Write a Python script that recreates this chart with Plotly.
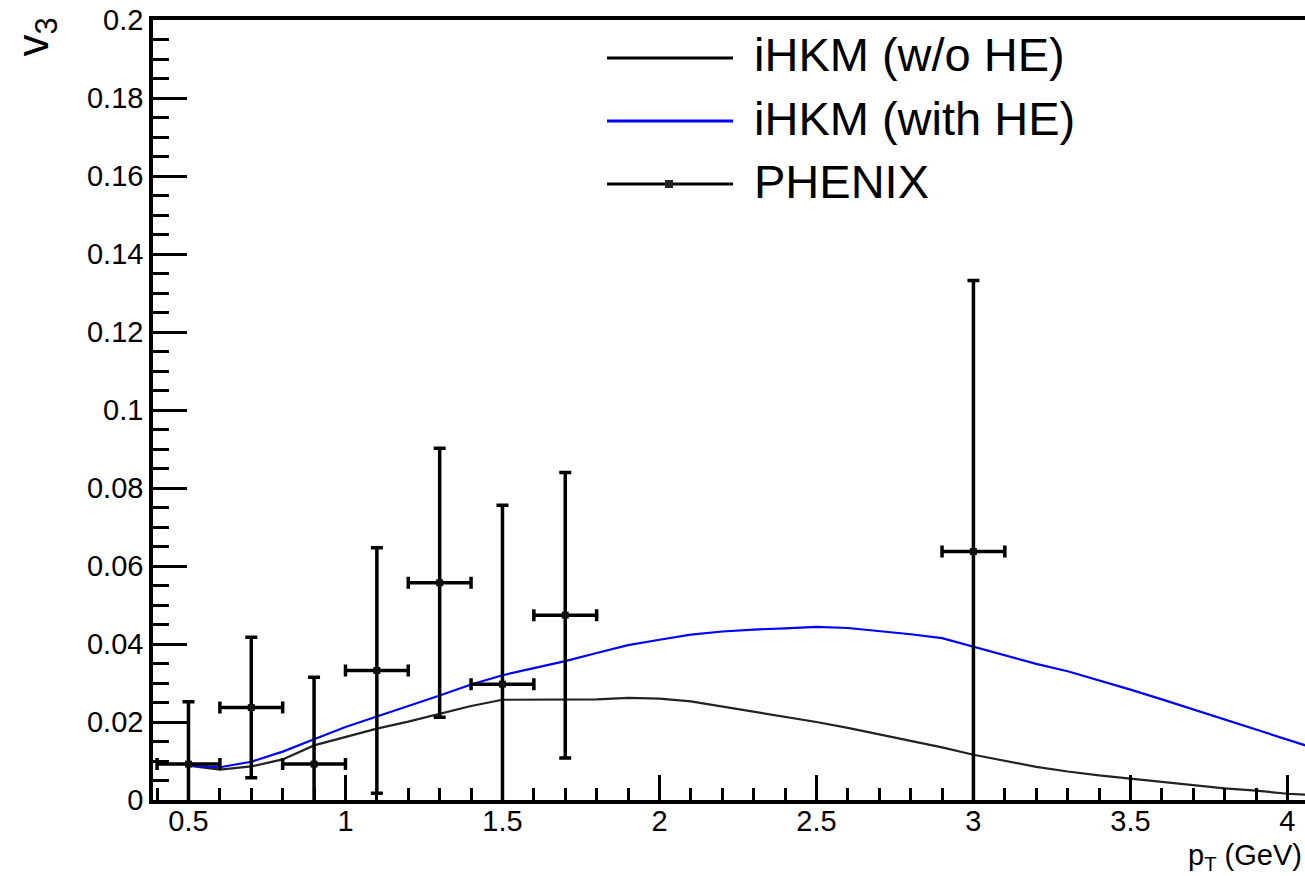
import plotly.graph_objects as go

# ---------------- data ----------------
curve_pt = [0.5, 0.6, 0.7, 0.8, 0.9, 1.0, 1.1, 1.2, 1.3, 1.4, 1.5, 1.6, 1.7, 1.8, 1.9,
            2.0, 2.1, 2.2, 2.3, 2.4, 2.5, 2.6, 2.7, 2.8, 2.9, 3.0, 3.1, 3.2, 3.3, 3.4,
            3.5, 3.6, 3.7, 3.8, 3.9, 4.0, 4.1]
v3_wo_he = [0.0088, 0.0078, 0.0086, 0.0104, 0.0140, 0.0162, 0.0183, 0.0201, 0.0221, 0.0241,
            0.0257, 0.0257, 0.0257, 0.0258, 0.0262, 0.0260, 0.0253, 0.0240, 0.0226, 0.0214,
            0.0200, 0.0185, 0.0168, 0.0152, 0.0135, 0.0116, 0.0100, 0.0085, 0.0073, 0.0063,
            0.0055, 0.0046, 0.0038, 0.0030, 0.0024, 0.0016, 0.0012]
v3_with_he = [0.0088, 0.0084, 0.0098, 0.0124, 0.0156, 0.0187, 0.0214, 0.0240, 0.0268, 0.0296,
              0.0320, 0.0338, 0.0356, 0.0377, 0.0397, 0.0411, 0.0424, 0.0432, 0.0437, 0.0440,
              0.0444, 0.0441, 0.0433, 0.0425, 0.0415, 0.0393, 0.0370, 0.0349, 0.0330, 0.0307,
              0.0283, 0.0258, 0.0232, 0.0207, 0.0181, 0.0155, 0.0129]

phenix_pt = [0.5, 0.7, 0.9, 1.1, 1.3, 1.5, 1.7, 3.0]
phenix_v3 = [0.0092, 0.0237, 0.0092, 0.0332, 0.0557, 0.0297, 0.0474, 0.0637]
phenix_err_v3 = [0.0160, 0.0180, 0.0223, 0.0315, 0.0345, 0.0459, 0.0366, 0.0695]
phenix_err_pt = [0.1, 0.1, 0.1, 0.1, 0.1, 0.1, 0.1, 0.1]

legend_labels = ["iHKM (w/o HE)", "iHKM (with HE)", "PHENIX"]

x_tick_vals = [0.5, 1.0, 1.5, 2.0, 2.5, 3.0, 3.5, 4.0]
x_tick_text = ["0.5", "1", "1.5", "2", "2.5", "3", "3.5", "4"]
y_tick_vals = [0, 0.02, 0.04, 0.06, 0.08, 0.10, 0.12, 0.14, 0.16, 0.18, 0.20]
y_tick_text = ["0", "0.02", "0.04", "0.06", "0.08", "0.1", "0.12", "0.14", "0.16", "0.18", "0.2"]

# ---------------- figure ----------------
FONT = "Liberation Sans, Arial, Helvetica, sans-serif"
W, H = 1305, 876
L, R, T, B = 153, 0, 20, 76
PW, PH = W - L - R, H - T - B


def px_x(p):
    return (p - L) / PW


def px_y(p):
    return (H - B - p) / PH


fig = go.Figure()

fig.add_trace(go.Scatter(x=curve_pt, y=v3_wo_he, mode="lines",
                         line=dict(color="#222222", width=2.2), showlegend=False))
fig.add_trace(go.Scatter(x=curve_pt, y=v3_with_he, mode="lines",
                         line=dict(color="#0000ff", width=2.2), showlegend=False))
fig.add_trace(go.Scatter(
    x=phenix_pt, y=phenix_v3, mode="markers",
    marker=dict(symbol="square", size=7, color="#111111"),
    error_y=dict(type="data", array=phenix_err_v3, color="black", thickness=3.5, width=6),
    error_x=dict(type="data", array=phenix_err_pt, color="black", thickness=3.5, width=6),
    showlegend=False, cliponaxis=True))

fig.update_xaxes(range=[0.387, 4.056], tickmode="array", tickvals=x_tick_vals,
                 ticktext=x_tick_text, ticks="inside", ticklen=25, tickwidth=3,
                 tickcolor="black", showline=True, linewidth=3.5, linecolor="black",
                 mirror=True, showgrid=False, zeroline=False, ticklabelstandoff=-8,
                 tickfont=dict(family=FONT, size=29, color="black"),
                 minor=dict(tickmode="linear", tick0=0, dtick=0.1, ticks="inside",
                            ticklen=12, tickwidth=3, tickcolor="black", showgrid=False))
fig.update_yaxes(range=[0, 0.2], tickmode="array", tickvals=y_tick_vals,
                 ticktext=y_tick_text, ticks="inside", ticklen=34, tickwidth=3,
                 tickcolor="black", showline=True, linewidth=3.5, linecolor="black",
                 mirror=False, showgrid=False, zeroline=False,
                 tickfont=dict(family=FONT, size=29, color="black"),
                 minor=dict(tickmode="linear", tick0=0, dtick=0.005, ticks="inside",
                            ticklen=16, tickwidth=3, tickcolor="black", showgrid=False))

shapes = []
annotations = []
legend_rows_y = [58, 121, 184]
legend_colors = ["black", "#0000ff", "black"]
for lab, yy, col in zip(legend_labels, legend_rows_y, legend_colors):
    shapes.append(dict(type="line", xref="paper", yref="paper",
                       x0=px_x(607), x1=px_x(733), y0=px_y(yy), y1=px_y(yy),
                       line=dict(color=col, width=3)))
    annotations.append(dict(text=lab, xref="paper", yref="paper", x=px_x(752), y=px_y(yy - 3),
                            xanchor="left", yanchor="middle", showarrow=False,
                            font=dict(family=FONT, size=47, color="black")))
# PHENIX legend marker
shapes.append(dict(type="rect", xref="paper", yref="paper",
                   x0=px_x(665), x1=px_x(673), y0=px_y(188), y1=px_y(180),
                   fillcolor="#222222", line=dict(width=0)))

# axis titles
annotations.append(dict(text="v<sub>3</sub>", xref="paper", yref="paper",
                        x=px_x(35), y=px_y(16), xanchor="center", yanchor="top",
                        textangle=-90, showarrow=False,
                        font=dict(family=FONT, size=44, color="black")))
annotations.append(dict(text="p<sub>T</sub> (GeV)", xref="paper", yref="paper",
                        x=px_x(1304), y=px_y(857), xanchor="right", yanchor="middle",
                        showarrow=False, font=dict(family=FONT, size=29, color="black")))

fig.update_layout(width=W, height=H, margin=dict(l=L, r=R, t=T, b=B),
                  paper_bgcolor="white", plot_bgcolor="white", showlegend=False,
                  shapes=shapes, annotations=annotations,
                  font=dict(family=FONT, color="black"))

fig.write_html("out.html")
